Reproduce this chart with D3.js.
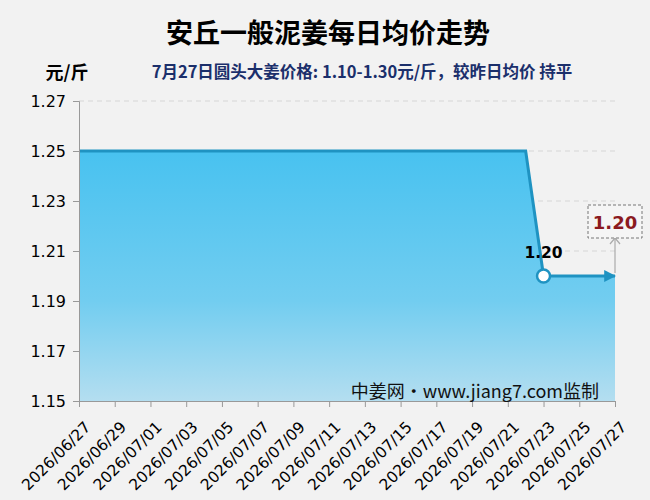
<!DOCTYPE html>
<html>
<head>
<meta charset="utf-8">
<script src="https://cdn.jsdelivr.net/npm/d3@7"></script>
<style>
  body { margin: 0; background: #f2f2f2; }
  svg { display: block; font-family: "Noto Sans CJK SC", "DejaVu Sans", sans-serif; }
  .num { font-family: "DejaVu Sans", sans-serif; }
</style>
</head>
<body>
<div id="chart"></div>
<script>
// data
const dates = ['2026/06/27','2026/06/28','2026/06/29','2026/06/30','2026/07/01','2026/07/02','2026/07/03',
  '2026/07/04','2026/07/05','2026/07/06','2026/07/07','2026/07/08','2026/07/09','2026/07/10','2026/07/11',
  '2026/07/12','2026/07/13','2026/07/14','2026/07/15','2026/07/16','2026/07/17','2026/07/18','2026/07/19',
  '2026/07/20','2026/07/21','2026/07/22','2026/07/23','2026/07/24','2026/07/25','2026/07/26','2026/07/27'];
const prices = [1.25,1.25,1.25,1.25,1.25,1.25,1.25,1.25,1.25,1.25,1.25,1.25,1.25,1.25,1.25,
  1.25,1.25,1.25,1.25,1.25,1.25,1.25,1.25,1.25,1.25,1.25,1.20,1.20,1.20,1.20,1.20];
const yTicks = [1.15, 1.17, 1.19, 1.21, 1.23, 1.25, 1.27];
const markIndex = 26; // 07/23, labelled point
const lastPrice = 1.20;

const width = 650, height = 500;
const margin = { top: 101, right: 35, bottom: 99, left: 79 };
const w = width - margin.left - margin.right;
const h = height - margin.top - margin.bottom;

const parse = d3.timeParse('%Y/%m/%d');
const fmt = d3.timeFormat('%Y/%m/%d');
const data = dates.map((d, i) => ({ date: parse(d), price: prices[i] }));

const svg = d3.select('#chart').append('svg')
  .attr('width', width)
  .attr('height', height);

const defs = svg.append('defs');
const grad = defs.append('linearGradient')
  .attr('id', 'areaGrad')
  .attr('x1', 0).attr('y1', 0).attr('x2', 0).attr('y2', 1);
grad.append('stop').attr('offset', '0%').attr('stop-color', '#48c2f0');
grad.append('stop').attr('offset', '60%').attr('stop-color', '#72cdf0');
grad.append('stop').attr('offset', '100%').attr('stop-color', '#b4def0');

defs.append('marker')
  .attr('id', 'arrowEnd')
  .attr('viewBox', '0 0 10 10')
  .attr('refX', 9).attr('refY', 5)
  .attr('markerWidth', 4).attr('markerHeight', 4)
  .attr('markerUnits', 'strokeWidth')
  .attr('orient', 'auto')
  .append('path')
  .attr('d', 'M0,0 L10,5 L0,10 Z')
  .attr('fill', '#1f93c2');

// title + subtitle
svg.append('text')
  .attr('x', 328).attr('y', 43)
  .attr('text-anchor', 'middle')
  .style('font-size', '27px').style('font-weight', 'bold')
  .text('安丘一般泥姜每日均价走势');

svg.append('text')
  .attr('x', 67).attr('y', 79)
  .attr('text-anchor', 'middle')
  .style('font-size', '18px').style('font-weight', 'bold')
  .text('元/斤');

svg.append('text')
  .attr('x', 362).attr('y', 78)
  .attr('text-anchor', 'middle')
  .style('font-size', '16.5px').style('font-weight', 'bold')
  .attr('fill', '#1b2f6b')
  .text('7月27日圆头大姜价格: 1.10-1.30元/斤，较昨日均价 持平');

const g = svg.append('g')
  .attr('transform', 'translate(' + margin.left + ',' + margin.top + ')');

const x = d3.scaleTime()
  .domain(d3.extent(data, d => d.date))
  .range([0, w]);
const y = d3.scaleLinear()
  .domain([1.15, 1.27])
  .range([h, 0]);

// dashed grid
g.append('g').selectAll('line')
  .data(yTicks.slice(1))
  .join('line')
  .attr('x1', 0).attr('x2', w)
  .attr('y1', d => y(d)).attr('y2', d => y(d))
  .attr('stroke', '#d6d6d6')
  .attr('stroke-dasharray', '5,4');

// area + line
const area = d3.area()
  .x(d => x(d.date))
  .y0(h)
  .y1(d => y(d.price));
g.append('path')
  .datum(data)
  .attr('d', area)
  .attr('fill', 'url(#areaGrad)');

const line = d3.line()
  .x(d => x(d.date))
  .y(d => y(d.price));
g.append('path')
  .datum(data)
  .attr('d', line)
  .attr('fill', 'none')
  .attr('stroke', '#1f93c2')
  .attr('stroke-width', 3)
  .attr('marker-end', 'url(#arrowEnd)');

// axes
const yAxis = d3.axisLeft(y)
  .tickValues(yTicks)
  .tickFormat(d3.format('.2f'))
  .tickSize(6)
  .tickPadding(7);
const yg = g.append('g').call(yAxis);
yg.select('.domain').attr('stroke', '#999');
yg.selectAll('.tick line').attr('stroke', '#999');
yg.selectAll('.tick text')
  .attr('class', 'num')
  .style('font-size', '16px')
  .attr('fill', '#000');

const xTickDates = dates.filter((d, i) => i % 2 === 0).map(parse);
const xAxis = d3.axisBottom(x)
  .tickValues(xTickDates)
  .tickFormat(fmt)
  .tickSize(6)
  .tickSizeOuter(0);
const xg = g.append('g')
  .attr('transform', 'translate(0,' + h + ')')
  .call(xAxis);
xg.select('.domain').attr('stroke', '#999');
xg.selectAll('.tick line').attr('stroke', '#999');
xg.selectAll('.tick text')
  .attr('class', 'num')
  .style('font-size', '15.5px')
  .attr('fill', '#000')
  .attr('text-anchor', 'end')
  .attr('y', 0)
  .attr('dy', null)
  .attr('transform', 'translate(12,27) rotate(-45)');

// watermark
g.append('text')
  .attr('x', w - 16).attr('y', h - 3)
  .attr('text-anchor', 'end')
  .style('font-size', '18px')
  .attr('fill', '#111')
  .text('中姜网·www.jiang7.com监制');

// marked point
const mp = data[markIndex];
g.append('circle')
  .attr('cx', x(mp.date)).attr('cy', y(mp.price))
  .attr('r', 6.5)
  .attr('fill', '#fff')
  .attr('stroke', '#1f93c2')
  .attr('stroke-width', 2.5);
g.append('text')
  .attr('class', 'num')
  .attr('x', x(mp.date)).attr('y', y(mp.price) - 18)
  .attr('text-anchor', 'middle')
  .style('font-size', '15.5px').style('font-weight', 'bold')
  .text(d3.format('.2f')(mp.price));

// last value callout
const lastX = x(data[data.length - 1].date);
const lastY = y(lastPrice);
g.append('line')
  .attr('x1', lastX).attr('x2', lastX)
  .attr('y1', lastY - 3).attr('y2', lastY - 38)
  .attr('stroke', '#aaa').attr('stroke-width', 1.2);
g.append('path')
  .attr('d', 'M' + (lastX - 5) + ',' + (lastY - 32) + ' L' + lastX + ',' + (lastY - 38) + ' L' + (lastX + 5) + ',' + (lastY - 32))
  .attr('fill', 'none')
  .attr('stroke', '#aaa').attr('stroke-width', 1.2);
g.append('rect')
  .attr('x', lastX - 27).attr('y', lastY - 71)
  .attr('width', 54).attr('height', 33)
  .attr('fill', '#f5f5f5')
  .attr('stroke', '#777')
  .attr('stroke-dasharray', '3,2');
g.append('text')
  .attr('class', 'num')
  .attr('x', lastX).attr('y', lastY - 47)
  .attr('text-anchor', 'middle')
  .style('font-size', '18px').style('font-weight', 'bold')
  .attr('fill', '#8b1a1f')
  .text(d3.format('.2f')(lastPrice));
</script>
</body>
</html>
